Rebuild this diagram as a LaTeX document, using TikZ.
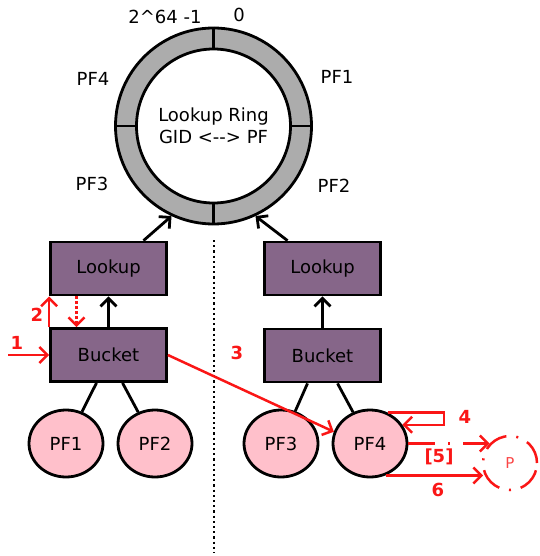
\documentclass[tikz,border=0pt]{standalone}
\usepackage{fontspec}
\setmainfont{DejaVu Sans}
\usetikzlibrary{arrows.meta,shapes.geometric}
\definecolor{boxfill}{RGB}{134,102,137}
\definecolor{pffill}{RGB}{255,192,203}
\definecolor{ringfill}{RGB}{172,172,172}
\definecolor{flow}{RGB}{250,22,22}
\definecolor{ghost}{RGB}{250,70,70}
\tikzset{
  txt/.style={font=\fontsize{18}{22}\selectfont},
  box/.style={txt, draw, line width=2.8pt, fill=boxfill, minimum width=116pt,
    minimum height=53pt, inner sep=0pt},
  pf/.style={txt, ellipse, draw, line width=2.8pt, fill=pffill, minimum width=74pt,
    minimum height=67pt, inner sep=0pt},
  num/.style={text=flow, font=\fontsize{18}{22}\selectfont\bfseries},
  link/.style={line width=2.8pt},
  up/.style={line width=2.8pt, -{Straight Barb[length=8pt,width=16pt]}},
  flowarrow/.style={flow, line width=2.5pt, -{Straight Barb[length=8pt,width=16pt]}},
}
\begin{document}
\begin{tikzpicture}[x=1pt, y=-1pt]
\useasboundingbox (0,0) rectangle (539,556);

% lookup ring
\node[circle, draw, line width=2.8pt, fill=ringfill, minimum size=196pt, inner sep=0pt] (ring) at (213.5,126) {};
\node[circle, draw, line width=2.8pt, fill=white, minimum size=154pt, inner sep=0pt, txt, align=center] (inner) at (213.5,126) {Lookup Ring\\[0pt]GID <-{}-> PF};
\draw[link] (ring.north) -- (inner.north);
\draw[link] (ring.south) -- (inner.south);
\draw[link] (ring.west) -- (inner.west);
\draw[link] (ring.east) -- (inner.east);

\node[txt] (lmax) at (165,17) {2\textasciicircum 64 -1};
\node[txt] (lzero) at (239,15) {0};
\node[txt] (l4) at (93,79) {PF4};
\node[txt] (l1) at (337,77) {PF1};
\node[txt] (l3) at (92,184) {PF3};
\node[txt] (l2) at (334,186) {PF2};

% separator
\coordinate (sepTop) at (214,240);
\coordinate (sepBot) at (214,553);
\draw[line width=2.6pt, dash pattern=on 2.2pt off 3pt] (sepTop) -- (sepBot);

% boxes
\node[box] (lk1) at (108.5,268.5) {Lookup};
\node[box] (bk1) at (108.5,355) {Bucket};
\node[box] (lk2) at (322.5,268.5) {Lookup};
\node[box] (bk2) at (322.5,355.5) {Bucket};

% PF circles
\node[pf] (pf1) at (66,443.5) {PF1};
\node[pf] (pf2) at (155,443.5) {PF2};
\node[pf] (pf3) at (281,443.5) {PF3};
\node[pf] (pf4) at (370,443.5) {PF4};

% black connectors
\draw[up] (bk1.north) -- (lk1.south);
\draw[up] (bk2.north) -- (lk2.south);
\draw[up] ([xshift=35pt]lk1.north) -- (ring.245);
\draw[up] ([xshift=-35pt]lk2.north) -- (ring.295);
\draw[link] ([xshift=-12pt]bk1.south) -- (pf1);
\draw[link] ([xshift=14pt]bk1.south) -- (pf2);
\draw[link] ([xshift=-15pt]bk2.south) -- (pf3);
\draw[link] ([xshift=15pt]bk2.south) -- (pf4);

% peer node
\node[circle, minimum size=54pt, inner sep=0pt, draw=flow, line width=2.5pt,
  dash pattern=on 24pt off 10pt on 2pt off 10pt, text=ghost,
  font=\fontsize{15}{18}\selectfont] (p) at (510,463) {P};

% red flow
\coordinate (in1) at (8,355);
\draw[flowarrow] (in1) -- (bk1.west);
\node[num] (n1) at (17,343) {1};
\draw[flowarrow] (bk1.north west) -- (lk1.south west);
\node[num] (n2) at (37,315) {2};
\draw[flowarrow, dash pattern=on 2.2pt off 2.8pt] ([xshift=-32pt]lk1.south) -- ([xshift=-32pt]bk1.north);
\draw[flowarrow] (bk1.east) -- (pf4.162);
\node[num] (n3) at (237,353) {3};
\coordinate (c4) at (444,419);
\draw[flowarrow] (pf4.60) -| (c4) |- (pf4.30);
\node[num] (n4) at (465,417) {4};
\draw[flowarrow, dash pattern=on 27pt off 13pt on 2pt off 13pt] (pf4.east) -- (pf4.east -| p.136);
\node[num] (n5) at (439,457) {[5]};
\draw[flowarrow] (pf4.-64) -- (pf4.-64 -| p.198);
\node[num] (n6) at (438,490) {6};
\end{tikzpicture}
\end{document}
